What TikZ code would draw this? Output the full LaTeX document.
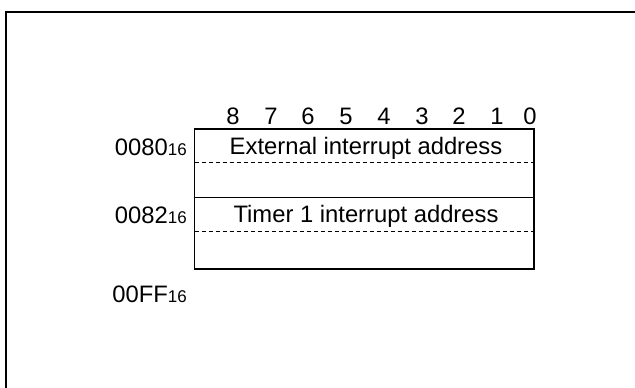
\documentclass[tikz,border=0pt]{standalone}
\usepackage{fontspec}
\setmainfont{Liberation Sans}
\begin{document}
\begin{tikzpicture}[x=1pt,y=-1pt,
  lbl/.style={inner sep=0pt,font=\fontsize{23.8}{25}\selectfont},
  frame/.style={line width=2pt},
  boxline/.style={line width=1.4pt},
  dashline/.style={line width=0.9pt,dash pattern=on 4pt off 3pt}]
\useasboundingbox (0,0) rectangle (635,388);
\clip (0,0) rectangle (635,388);
\draw[frame] (6,420) -- (6,12) -- (660,12);
% register box
\coordinate (tl) at (194.5,129);
\coordinate (br) at (534,269);
\draw[boxline] (tl) rectangle (br);
\coordinate (ml) at (194.5,197.5);
\coordinate (mr) at (534,197.5);
\draw[boxline] (ml) -- (mr);
\coordinate (d1l) at (194.5,162.5);
\coordinate (d1r) at (534,162.5);
\coordinate (d2l) at (194.5,231.5);
\coordinate (d2r) at (534,231.5);
\draw[dashline] (d1l) -- (d1r);
\draw[dashline] (d2l) -- (d2r);
% bit numbers
\foreach \b/\x in {8/233,7/271,6/308,5/346,4/384,3/422,2/459,1/497,0/530}
  \node[lbl,anchor=base] (bit\b) at (\x,124) {\b};
% entries
\node[lbl,anchor=base] (ext) at (366,154) {External interrupt address};
\node[lbl,anchor=base] (tim) at (366,222) {Timer 1 interrupt address};
% addresses
\node[lbl,anchor=base east] (a80) at (187,155) {0080{\fontsize{17}{17}\selectfont 16}};
\node[lbl,anchor=base east] (a82) at (187,223) {0082{\fontsize{17}{17}\selectfont 16}};
\node[lbl,anchor=base east] (aff) at (187,302) {00FF{\fontsize{17}{17}\selectfont 16}};
\end{tikzpicture}
\end{document}
